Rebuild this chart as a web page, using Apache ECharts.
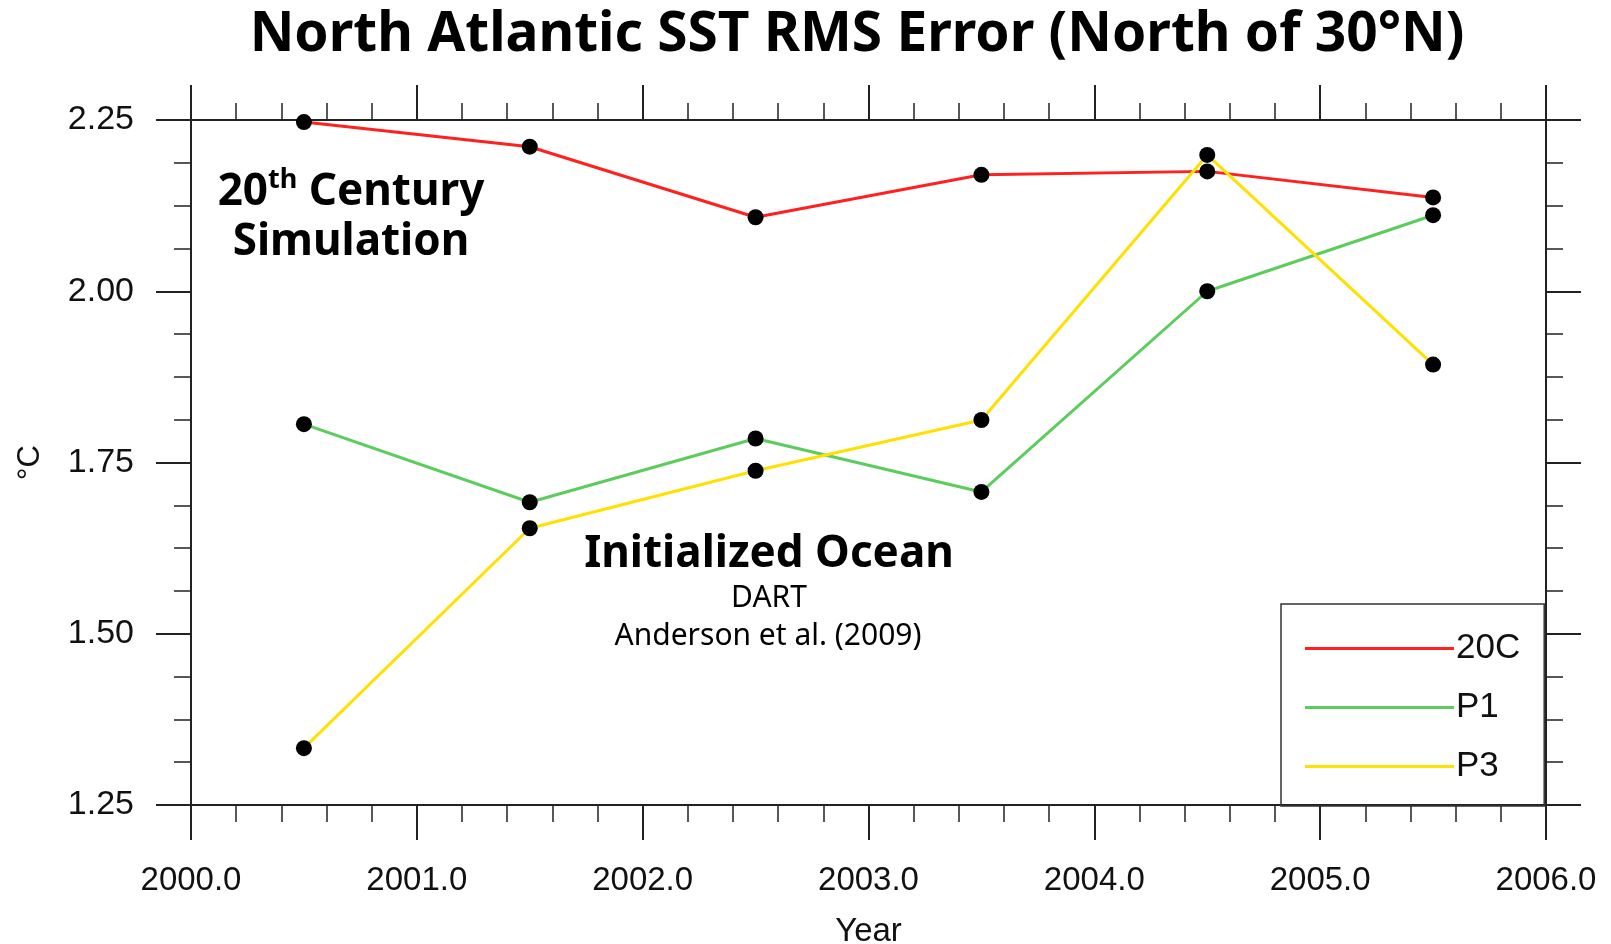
<!DOCTYPE html>
<html>
<head>
<meta charset="utf-8">
<script src="https://cdn.jsdelivr.net/npm/echarts@6/dist/echarts.min.js"></script>
<style>
  html, body { margin: 0; padding: 0; background: #fff; }
  #chart { width: 1611px; height: 944px; }
</style>
</head>
<body>
<div id="chart"></div>
<script>
// years (mid-year points)
let years = [2000.5, 2001.5, 2002.5, 2003.5, 2004.5, 2005.5];
// RMS error, deg C
let err_20c = [2.247, 2.211, 2.108, 2.170, 2.175, 2.137];
let err_p1 = [1.806, 1.692, 1.785, 1.707, 2.000, 2.111];
let err_p3 = [1.333, 1.654, 1.738, 1.812, 2.199, 1.893];

let seriesNames = ["20C", "P1", "P3"];
let seriesColors = ["#ff2020", "#5ccc5c", "#ffe000"];

let axisColor = "#222";
let labelFont = "Liberation Sans";
let annoFont = "Noto Sans";

function pairs(ys) {
    return years.map(function (x, i) { return [x, ys[i]]; });
}

function makeSeries(name, ys, color) {
    return {
        name: name,
        type: "line",
        data: pairs(ys),
        xAxisIndex: 0,
        yAxisIndex: 0,
        symbol: "circle",
        symbolSize: 16,
        itemStyle: { color: "#000" },
        lineStyle: { color: color, width: 3 },
        emphasis: { disabled: true },
        animation: false
    };
}

function xAxisDef(pos, showLabel) {
    return {
        type: "value",
        position: pos,
        min: 2000,
        max: 2006,
        interval: 1,
        axisLine: { show: true, onZero: false, lineStyle: { color: axisColor, width: 2 } },
        axisTick: { show: true, inside: false, length: 35, lineStyle: { color: axisColor, width: 2 } },
        minorTick: { show: true, splitNumber: 5, length: 17, lineStyle: { color: axisColor, width: 1.5 } },
        splitLine: { show: false },
        axisLabel: {
            show: showLabel,
            formatter: function (v) { return v.toFixed(1); },
            fontSize: 33,
            fontFamily: labelFont,
            color: "#111",
            margin: 59
        },
        name: showLabel ? "Year" : "",
        nameLocation: "middle",
        nameGap: 110,
        nameTextStyle: { fontSize: 33, fontFamily: labelFont, color: "#111" }
    };
}

function yAxisDef(pos, showLabel) {
    return {
        type: "value",
        position: pos,
        min: 1.25,
        max: 2.25,
        interval: 0.25,
        axisLine: { show: true, onZero: false, lineStyle: { color: axisColor, width: 2 } },
        axisTick: { show: true, inside: false, length: 35, lineStyle: { color: axisColor, width: 2 } },
        minorTick: { show: true, splitNumber: 4, length: 17, lineStyle: { color: axisColor, width: 1.5 } },
        splitLine: { show: false },
        axisLabel: {
            show: showLabel,
            formatter: function (v) { return v.toFixed(2); },
            fontSize: 34,
            fontFamily: labelFont,
            color: "#111",
            margin: 57
        },
        name: showLabel ? "°C" : "",
        nameLocation: "middle",
        nameRotate: 90,
        nameGap: 145,
        nameTextStyle: { fontSize: 31, fontFamily: labelFont, color: "#111" }
    };
}

let chart = echarts.init(document.getElementById("chart"), null, { renderer: "canvas" });

let option = {
    backgroundColor: "#fff",
    animation: false,
    title: {
        text: "North Atlantic SST RMS Error (North of 30°N)",
        left: 852,
        top: 3,
        textAlign: "center",
        textStyle: { fontSize: 55, fontWeight: "bold", fontFamily: annoFont, color: "#000" }
    },
    grid: { left: 191, right: 65, top: 120, bottom: 139, containLabel: false, outerBoundsMode: "none" },
    legend: {
        orient: "vertical",
        left: 1281,
        top: 604,
        padding: [25, 24, 20, 24],
        itemWidth: 149,
        itemHeight: 3,
        itemGap: 20,
        icon: "rect",
        borderColor: "#333",
        borderWidth: 1.5,
        textStyle: { fontSize: 35, fontFamily: labelFont, color: "#111", lineHeight: 39, padding: [0, 0, 0, -3] },
        data: seriesNames.map(function (n, i) {
            return { name: n, itemStyle: { color: seriesColors[i] } };
        }),
        selectedMode: false
    },
    xAxis: [xAxisDef("bottom", true), xAxisDef("top", false)],
    yAxis: [yAxisDef("left", true), yAxisDef("right", false)],
    series: [
        makeSeries(seriesNames[0], err_20c, seriesColors[0]),
        makeSeries(seriesNames[1], err_p1, seriesColors[1]),
        makeSeries(seriesNames[2], err_p3, seriesColors[2])
    ],
    graphic: [
        {
            type: "text", x: 351, y: 192,
            style: {
                text: "{a|20}{s|th}{a| Century}",
                align: "center", verticalAlign: "middle",
                rich: {
                    a: { fontSize: 44, fontWeight: "bold", fontFamily: annoFont, fill: "#000", lineHeight: 50 },
                    s: { fontSize: 27, fontWeight: "bold", fontFamily: annoFont, fill: "#000", verticalAlign: "top", lineHeight: 31 }
                }
            }
        },
        {
            type: "text", x: 351, y: 242,
            style: { text: "Simulation", align: "center", verticalAlign: "middle",
                fontSize: 44, fontWeight: "bold", fontFamily: annoFont, fill: "#000" }
        },
        {
            type: "text", x: 769, y: 554,
            style: { text: "Initialized Ocean", align: "center", verticalAlign: "middle",
                fontSize: 44, fontWeight: "bold", fontFamily: annoFont, fill: "#000" }
        },
        {
            type: "text", x: 769, y: 598,
            style: { text: "DART", align: "center", verticalAlign: "middle",
                fontSize: 30, fontFamily: annoFont, fill: "#000" }
        },
        {
            type: "text", x: 768, y: 636,
            style: { text: "Anderson et al. (2009)", align: "center", verticalAlign: "middle",
                fontSize: 30, fontFamily: annoFont, fill: "#000" }
        }
    ]
};

chart.setOption(option);
</script>
</body>
</html>
